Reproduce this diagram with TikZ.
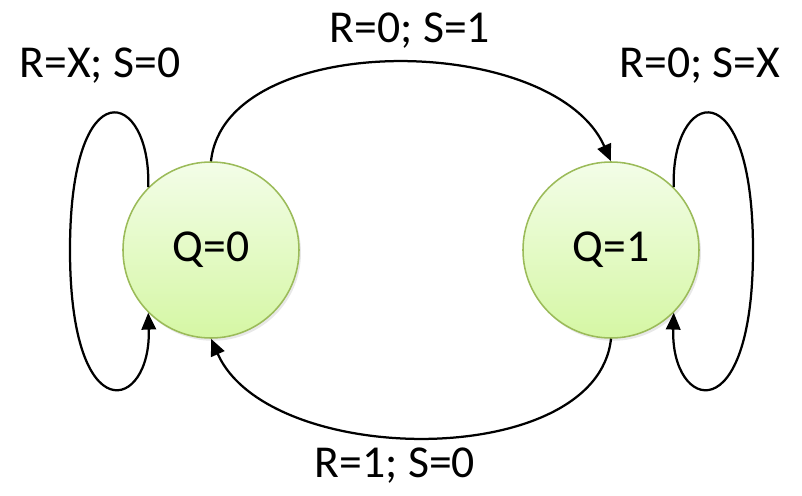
\documentclass[tikz,border=0pt]{standalone}
\usepackage{fontspec}
\setmainfont{Carlito}
\usepackage{xcolor}
\definecolor{stateline}{HTML}{9BBB59}
\definecolor{statetop}{HTML}{F3FDE8}
\definecolor{statebot}{HTML}{D5F7A4}
\usetikzlibrary{arrows.meta,positioning,calc,shadows}
\tikzset{
  qstate/.style = {circle,draw=stateline,line width=1.1pt,minimum size=4.4cm,
                   inner sep=0pt,top color=statetop,bottom color=statebot,
                   drop shadow={shadow xshift=0.5mm,shadow yshift=-0.7mm,
                                opacity=0.18}},
  trans/.style  = {-{Triangle[length=4.2mm,width=3.6mm]},line width=1.6pt},
  lbl/.style    = {anchor=base,inner sep=0pt},
}
\begin{document}
\begin{tikzpicture}[font=\fontsize{32.5}{39}\selectfont]
  \useasboundingbox (-5.275,-6.125) rectangle (14.775,6.25);

  \node[qstate] (q0) at (0,0)  {Q=0};
  \node[qstate] (q1) at (10,0) {Q=1};

  % Transitions between the two states
  \draw[trans] (q0.north) .. controls +(0.35,3.3) and +(-1.45,3.25) .. (q1.north);
  \draw[trans] (q1.south) .. controls +(-0.35,-3.3) and +(1.45,-3.25) .. (q0.south);

  % Self loops
  \draw[trans] (q0.135) .. controls +(0.08,2.45) and +(0,4.6) .. ($(q0)+(-3.525,0)$)
                        .. controls +(0,-4.6) and +(0.08,-2.45) .. (q0.225);
  \draw[trans] (q1.45) .. controls +(-0.08,2.45) and +(0,4.6) .. ($(q1)+(3.55,0)$)
                       .. controls +(0,-4.6) and +(-0.08,-2.45) .. (q1.-45);

  % Labels
  \node[lbl] (l01) at (4.975,5.2)   {R=0; S=1};
  \node[lbl] (l00) at (-2.775,4.325) {R=X; S=0};
  \node[lbl] (l11) at (12.225,4.325) {R=0; S=X};
  \node[lbl] (l10) at (4.6,-5.675)  {R=1; S=0};
\end{tikzpicture}
\end{document}
